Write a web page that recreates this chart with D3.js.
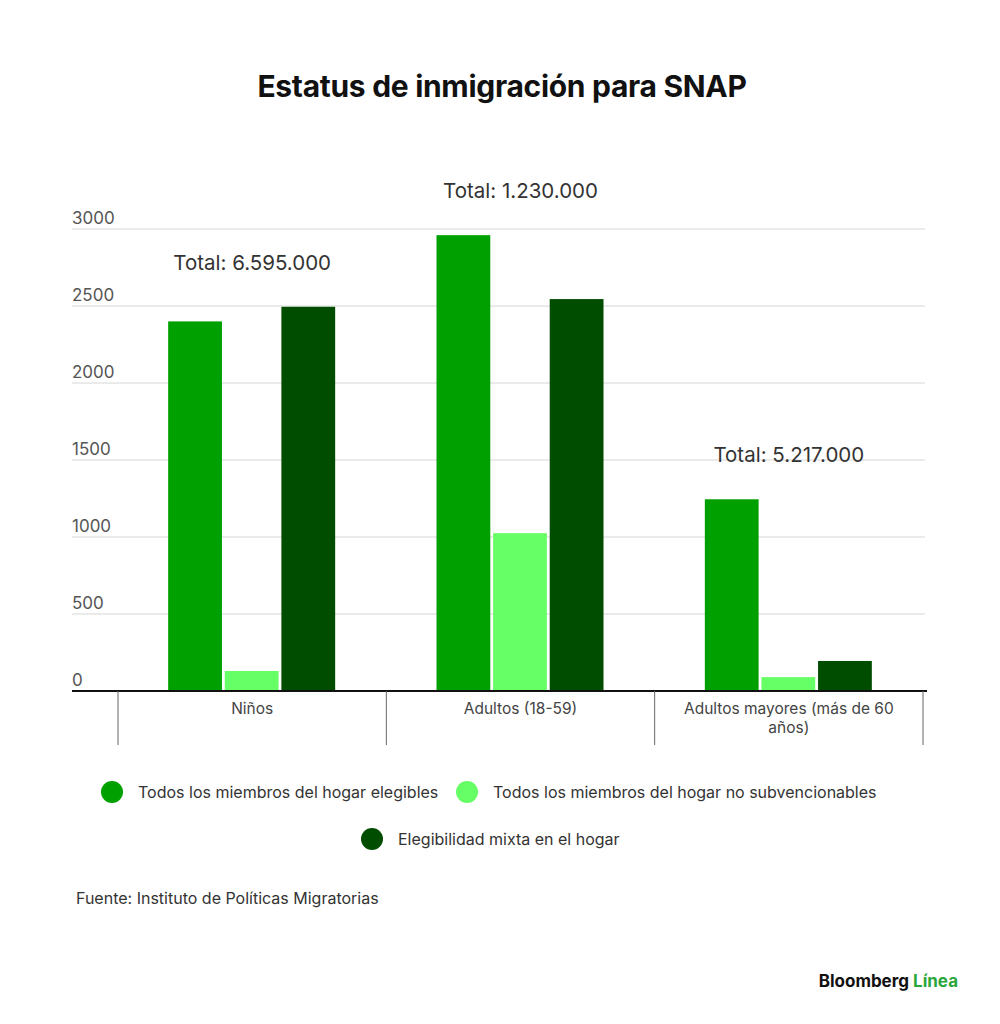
<!DOCTYPE html>
<html>
<head>
<meta charset="utf-8">
<script src="https://cdn.jsdelivr.net/npm/d3@7"></script>
<style>
	body { margin: 0; background: #fff; }
	svg text { font-family: Inter, "Noto Sans", sans-serif; }
</style>
</head>
<body>
<div id="chart"></div>
<script>
// data ///////////////////////////////////////////////////////////////////////////
var categories = ['Niños', 'Adultos (18-59)', 'Adultos mayores (más de 60 años)'];
var series = ['Todos los miembros del hogar elegibles', 'Todos los miembros del hogar no subvencionables', 'Elegibilidad mixta en el hogar'];
var elegibles = [2400, 2960, 1245];
var noSubvencionables = [130, 1025, 90];
var mixta = [2495, 2545, 195];
var totals = ['Total: 6.595.000', 'Total: 1.230.000', 'Total: 5.217.000'];
var yTicks = [0, 500, 1000, 1500, 2000, 2500, 3000];
var colors = ['#00a000', '#66ff66', '#004d00'];

var values = [elegibles, noSubvencionables, mixta];

var width = 1000, height = 1024;
var plotLeft = 72, plotRight = 925, plotTop = 229, plotBottom = 691;

var svg = d3.select('#chart').append('svg')
	.attr('width', width)
	.attr('height', height);

// title
svg.append('text')
	.attr('x', 502)
	.attr('y', 97)
	.attr('text-anchor', 'middle')
	.attr('font-size', 30)
	.attr('font-weight', 700)
	.attr('letter-spacing', '-0.01em')
	.attr('fill', '#111')
	.text('Estatus de inmigración para SNAP');

var x = d3.scaleBand().domain(categories).range([118, 923]);
var xSub = d3.scaleBand().domain(series)
	.range([x.bandwidth() / 2 - 84, x.bandwidth() / 2 + 83])
	.paddingInner(0.05);
var y = d3.scaleLinear().domain([0, 3000]).range([plotBottom, plotTop]);

// grid + y labels
var grid = svg.append('g').attr('class', 'grid');
grid.selectAll('line')
	.data(yTicks.slice(1))
	.enter().append('line')
	.attr('x1', plotLeft)
	.attr('x2', plotRight)
	.attr('y1', function(d) { return y(d); })
	.attr('y2', function(d) { return y(d); })
	.attr('stroke', '#d6d6d6')
	.attr('stroke-width', 1);
grid.selectAll('text')
	.data(yTicks)
	.enter().append('text')
	.attr('x', plotLeft)
	.attr('y', function(d) { return y(d) - 5; })
	.attr('font-size', 17)
	.attr('fill', '#555')
	.text(function(d) { return d; });

// bars
var groups = svg.selectAll('.cat')
	.data(categories)
	.enter().append('g')
	.attr('class', 'cat')
	.attr('transform', function(d) { return 'translate(' + x(d) + ',0)'; });

groups.selectAll('rect')
	.data(function(d, i) {
		return series.map(function(s, j) { return {s: s, v: values[j][i], c: colors[j]}; });
	})
	.enter().append('rect')
	.attr('x', function(d) { return xSub(d.s); })
	.attr('width', xSub.bandwidth())
	.attr('y', function(d) { return y(d.v); })
	.attr('height', function(d) { return plotBottom - y(d.v); })
	.attr('fill', function(d) { return d.c; });

// totals above the tallest bar of each group
groups.append('text')
	.attr('x', x.bandwidth() / 2)
	.attr('y', function(d, i) {
		var mx = d3.max(values, function(v) { return v[i]; });
		return y(mx) - 37;
	})
	.attr('text-anchor', 'middle')
	.attr('font-size', 20.5)
	.attr('fill', '#333')
	.text(function(d, i) { return totals[i]; });

// x axis
var xAxis = svg.append('g')
	.attr('transform', 'translate(0,' + plotBottom + ')')
	.call(d3.axisBottom(x).tickSize(0).tickFormat(''));
xAxis.select('.domain').remove();
xAxis.append('line')
	.attr('x1', plotLeft).attr('x2', plotRight + 2)
	.attr('stroke', '#111').attr('stroke-width', 2);
xAxis.selectAll('.sep')
	.data(x.domain().map(function(d) { return x(d); }).concat([x.range()[1]]))
	.enter().append('line')
	.attr('class', 'sep')
	.attr('x1', function(d) { return d; })
	.attr('x2', function(d) { return d; })
	.attr('y1', 0).attr('y2', 54)
	.attr('stroke', '#666').attr('stroke-width', 1);

var catLines = [['Niños'], ['Adultos (18-59)'], ['Adultos mayores (más de 60', 'años)']];
xAxis.selectAll('.catlabel')
	.data(categories)
	.enter().append('text')
	.attr('class', 'catlabel')
	.attr('x', function(d) { return x(d) + x.bandwidth() / 2; })
	.attr('y', 23)
	.attr('text-anchor', 'middle')
	.attr('font-size', 15.5)
	.attr('fill', '#444')
	.each(function(d, i) {
		var t = d3.select(this);
		catLines[i].forEach(function(l, k) {
			t.append('tspan')
				.attr('x', x(d) + x.bandwidth() / 2)
				.attr('dy', k ? 19 : 0)
				.text(l);
		});
	});

// legend
var legendPos = [[112, 792], [467, 792], [372, 839]];
var legend = svg.selectAll('.legend')
	.data(series)
	.enter().append('g')
	.attr('class', 'legend')
	.attr('transform', function(d, i) { return 'translate(' + legendPos[i] + ')'; });
legend.append('circle')
	.attr('r', 11)
	.attr('fill', function(d, i) { return colors[i]; });
legend.append('text')
	.attr('x', 26)
	.attr('y', 6)
	.attr('font-size', 16)
	.attr('fill', '#333')
	.text(function(d) { return d; });

// source + logo
svg.append('text')
	.attr('x', 76)
	.attr('y', 904)
	.attr('font-size', 16)
	.attr('fill', '#333')
	.text('Fuente: Instituto de Políticas Migratorias');

var logo = svg.append('text')
	.attr('x', 958)
	.attr('y', 987)
	.attr('text-anchor', 'end')
	.attr('font-size', 17)
	.attr('font-weight', 700)
	.attr('fill', '#111');
logo.append('tspan').text('Bloomberg ');
logo.append('tspan').attr('fill', '#2aa63a').text('Línea');
</script>
</body>
</html>
